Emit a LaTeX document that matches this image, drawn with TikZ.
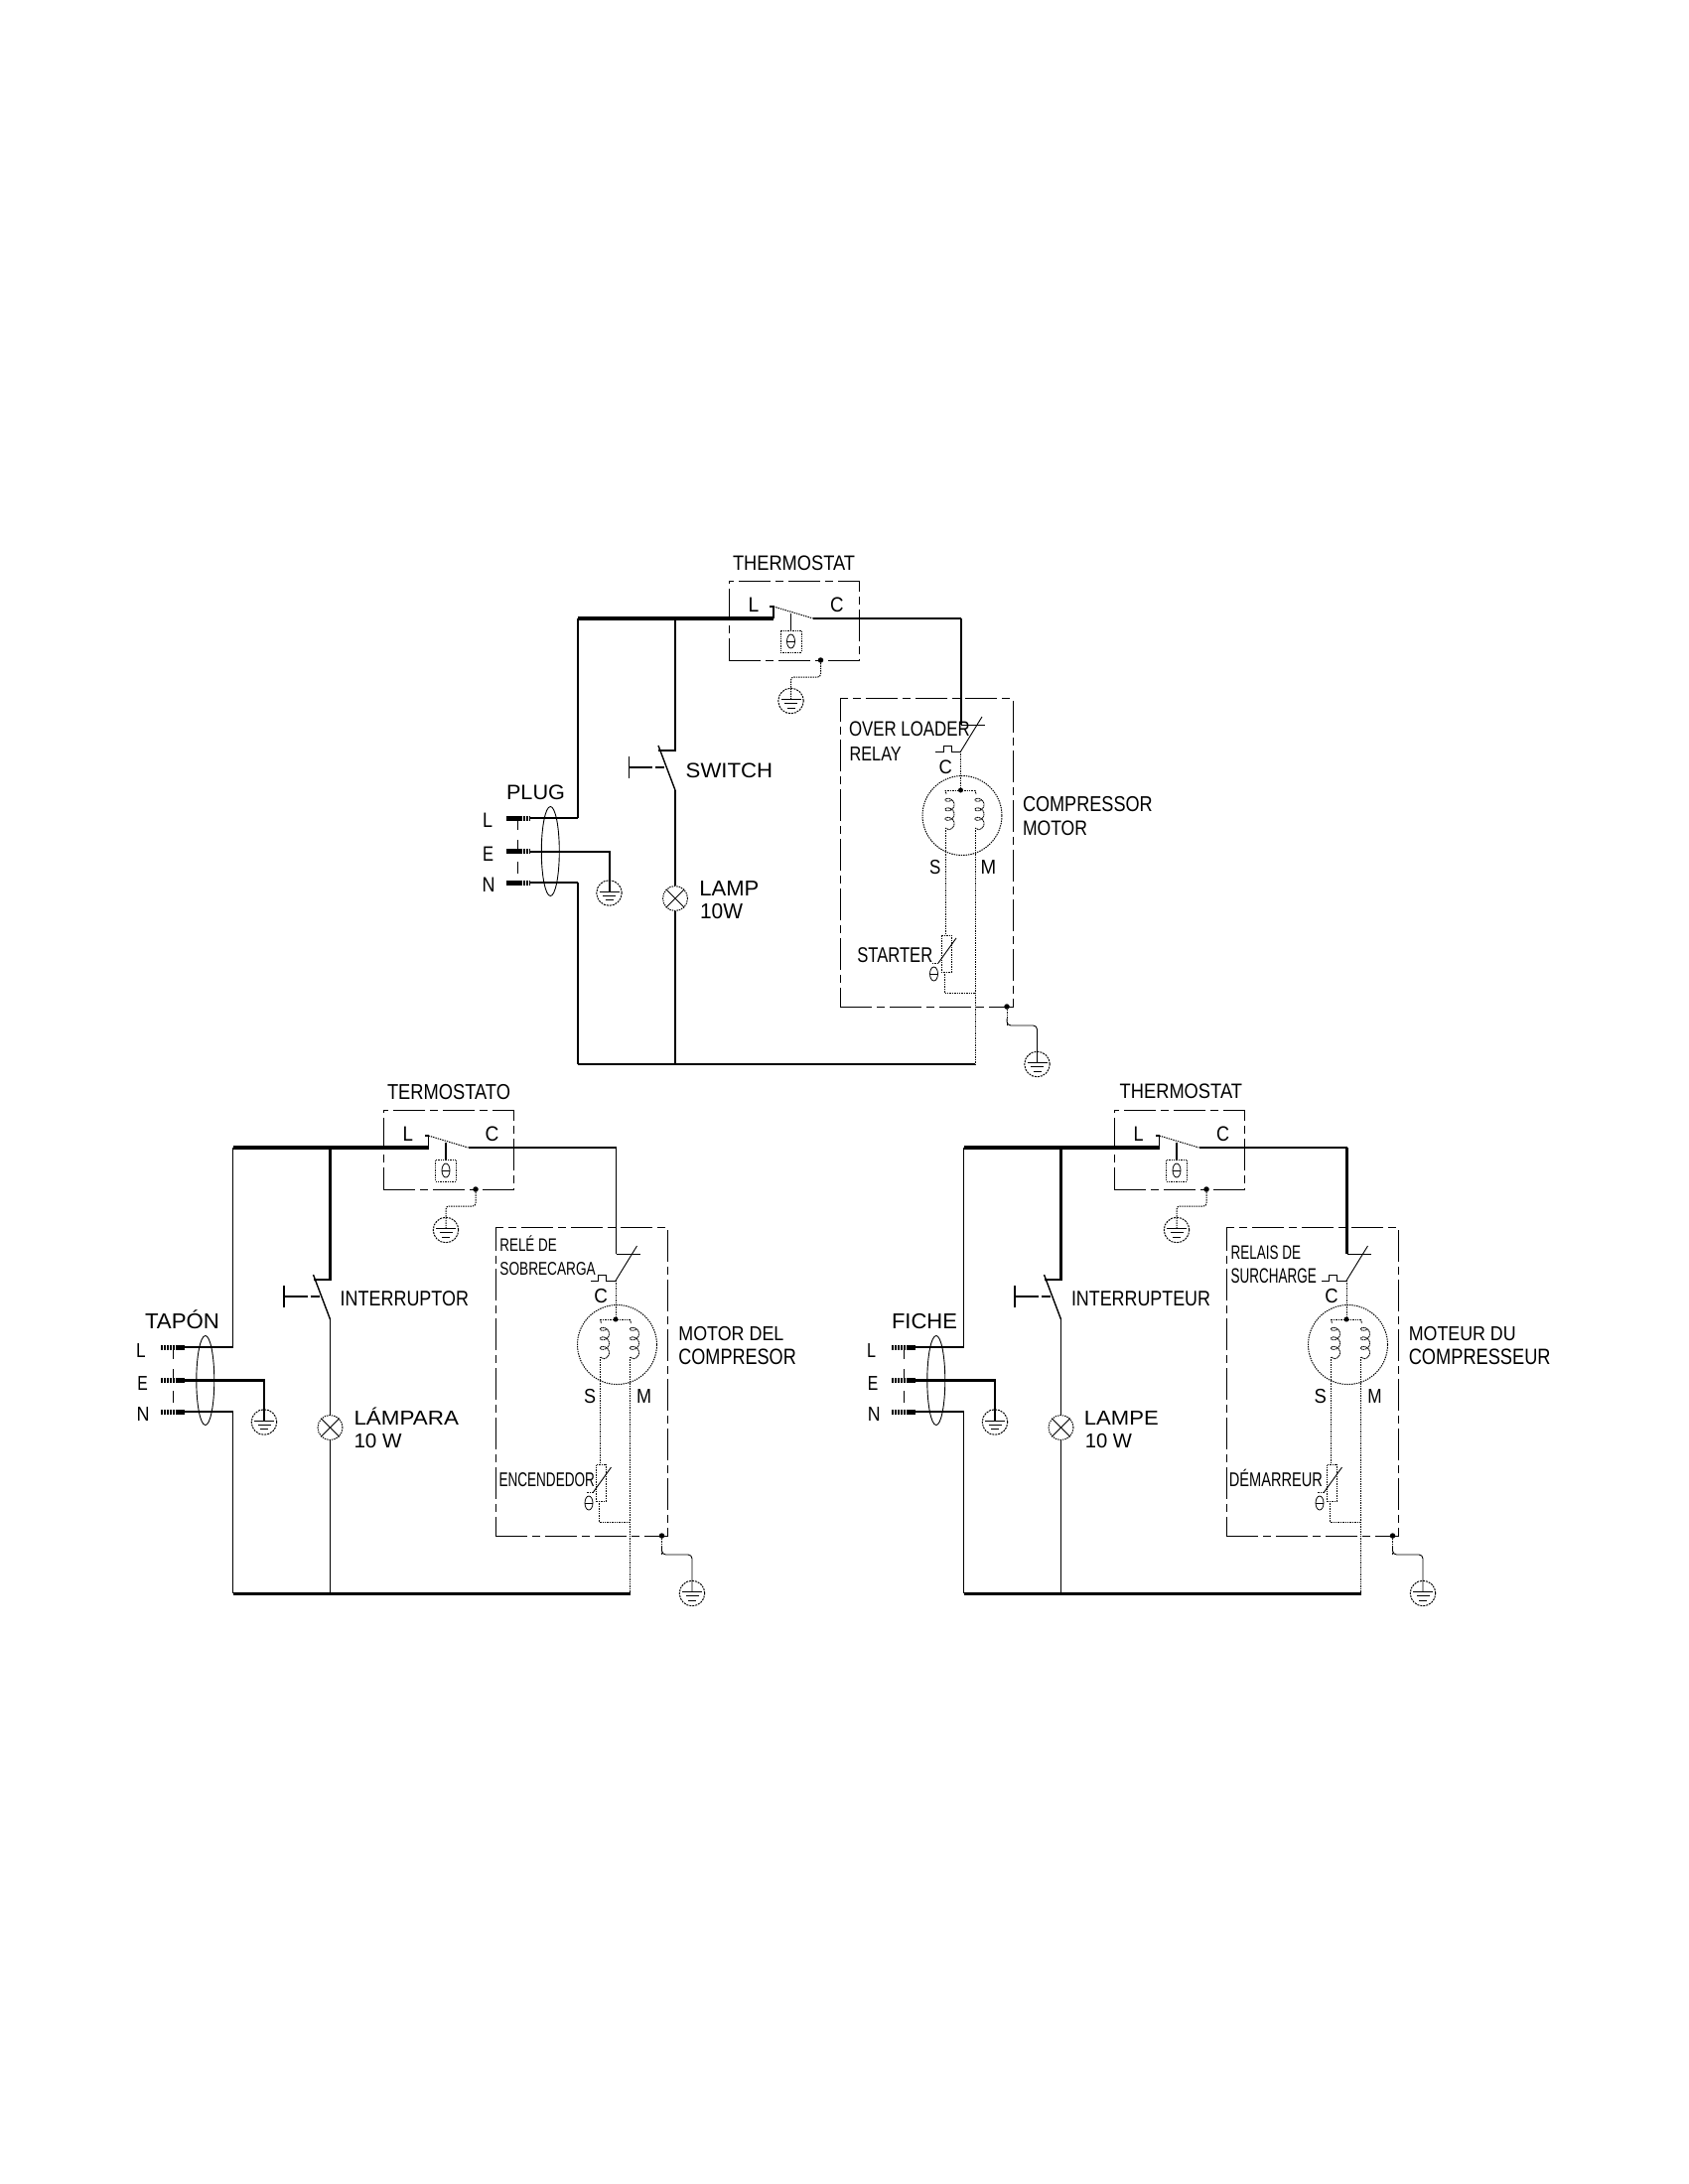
\documentclass[tikz,border=0pt]{standalone}
\usepackage{graphicx}
\usepackage{fontspec}
\setmainfont{Liberation Sans}
\tikzset{
  thinw/.style={line width=1pt,dash pattern=on 1.4pt off 1pt},
  solidthin/.style={line width=0.9pt},
  dbox/.style={draw,line width=0.9pt,dash pattern=on 32pt off 5pt on 8pt off 5pt,rectangle,inner sep=0pt,anchor=north west},
  ring/.style={draw,circle,inner sep=0pt,line width=1pt,dash pattern=on 1.4pt off 1pt},
  dotn/.style={circle,fill=black,inner sep=0pt,minimum size=5.5pt},
  pin/.style={line width=5pt,dash pattern=on 2.4pt off 0.5pt},
  lbn/.style={anchor=base west,inner sep=0pt,outer sep=0pt}
}
% \lb{name}{x}{ybase}{width}{capheight}{text}
\newcommand\lb[6]{\node[lbn] (#1) at (#2,#3) {\resizebox{#4pt}{\height}{\fontsize{\fpeval{#5/0.716}}{\fpeval{#5/0.6}}\selectfont #6}};}
% \gnd{name}{x}{y}
\newcommand\gnd[3]{%
  \node[ring,dash pattern=on 2pt off 1pt,minimum size=25.5pt] (#1) at (#2,#3) {};
  \coordinate (#1-s) at (#2,#3-2);
  \draw[solidthin] (#2-10,#3-1.5) -- (#2+10,#3-1.5);
  \draw[solidthin] (#2-6.5,#3+2.7) -- (#2+6.5,#3+2.7);
  \draw[solidthin] (#2-4,#3+7) -- (#2+4,#3+7);
}
% \coilat{x}: coil whose wire runs at x, from y=796 to 834
\newcommand\coilat[1]{%
  \draw[line width=0.9pt,dash pattern=on 1.2pt off 0.6pt] (#1,796) -- (#1+1,800)
    plot[domain=60:1180,samples=110] ({#1+4.5+4.5*cos(\x)},{801+0.0265*\x+3.5*sin(\x)}) -- (#1,834);
}
% \circuit{dx}{dy}{prefix}{top}{C wire}{relay wire}{left wires}{bottom}{earth}
\newcommand\circuit[9]{%
\begin{scope}[shift={(#1,#2)},name prefix=#3-]
  \coordinate (tl) at (582,623);
  \coordinate (j) at (680,623);
  \coordinate (lc) at (779,623);
  \coordinate (lu) at (779,611);
  \coordinate (ls) at (775,611);
  \coordinate (cc) at (819,623);
  \coordinate (r) at (968,623);
  \coordinate (rd) at (968,730);
  \coordinate (re) at (992,730);
  \coordinate (bl) at (582,1072);
  \coordinate (bj) at (680,1072);
  \coordinate (br) at (982,1072);
  % boxes
  \node[dbox,minimum width=131pt,minimum height=80pt] (tbox) at (733.5,585) {};
  \node[dbox,minimum width=173.5pt,minimum height=311pt] (mbox) at (846,703) {};
  % top wires
  \draw[line width=#4pt] (tl) -- (lc);
  \draw[line width=1.6pt] (lc) -- (lu) -- (ls);
  \draw[thinw] (lu) -- (cc);
  \draw[line width=#5pt] (cc) -- (r);
  \draw[line width=#6pt] (r) -- (rd);
  \draw[solidthin] (rd) -- (re);
  % thermostat sensor
  \coordinate (ts) at (796.5,617.5);
  \node[draw,rectangle,dash pattern=on 1.4pt off 1pt,line width=1pt,inner sep=0pt,minimum width=21pt,minimum height=22pt] (tbulb) at (796.5,646) {};
  \draw[line width=1.4pt] (ts) -- (tbulb);
  \draw[line width=0.8pt] (796.5,646) ellipse (4 and 7);
  \draw[line width=0.8pt] (792.5,646) -- (800.5,646);
  % thermostat earth
  \node[dotn] (td) at (826.5,665) {};
  \gnd{g1}{796.5}{706}
  \draw[thinw,rounded corners=3pt] (td) -- (826.5,682) -- (796.5,682) -- (g1-s);
  % plug
  \coordinate (pl) at (533.5,824);
  \coordinate (pe) at (533.5,857.5);
  \coordinate (pn) at (533.5,889);
  \coordinate (pl0) at (509.5,824);
  \coordinate (pe0) at (509.5,857.5);
  \coordinate (pn0) at (509.5,889);
  \draw[pin] (pl0) -- (pl);
  \draw[pin] (pe0) -- (pe);
  \draw[pin] (pn0) -- (pn);
  \draw[solidthin,dash pattern=on 12pt off 10pt] (521.5,824) -- (521.5,889);
  \draw[solidthin] (554.3,857.5) ellipse (9 and 45);
  \coordinate (lk) at (582,824);
  \coordinate (nk) at (582,889);
  \draw[line width=1.1pt] (pl) -- (lk);
  \draw[line width=#7pt] (lk) -- (tl);
  \draw[line width=1.1pt] (pn) -- (nk);
  \draw[line width=#7pt] (nk) -- (bl);
  \gnd{g2}{613.5}{899.5}
  \coordinate (ek) at (613.5,857.5);
  \draw[line width=#9pt] (pe) -- (ek) -- (g2-s);
  % switch and lamp
  \coordinate (sa) at (680,755.7);
  \coordinate (sb) at (663,755.7);
  \coordinate (sc) at (680,796);
  \draw[line width=2.2pt] (j) -- (sa) -- (sb);
  \draw[line width=1.4pt] (663,751) -- (sc);
  \draw[line width=1.6pt] (633.6,762) -- (633.6,784);
  \draw[line width=1.4pt] (633.6,773) -- (657,773);
  \draw[line width=1.4pt] (660,773) -- (669,773);
  \node[ring,minimum size=25pt] (lamp) at (680,905) {};
  \draw[solidthin] (lamp.45) -- (lamp.225);
  \draw[solidthin] (lamp.135) -- (lamp.315);
  \draw[line width=1.7pt] (sc) -- (lamp);
  \draw[line width=1.8pt] (lamp) -- (bj);
  \draw[line width=#8pt] (bl) -- (br);
  % overload relay
  \coordinate (ov) at (967.5,757);
  \draw[solidthin] (989,722) -- (ov);
  \draw[solidthin] (ov) -- (958,757) -- (958,751) -- (950,751) -- (950,757) -- (942,757);
  \node[dotn,minimum size=5pt] (md) at (967.5,796) {};
  \draw[thinw] (ov) -- (md);
  % motor
  \node[ring,minimum size=80pt] (mot) at (969,821.5) {};
  \draw[thinw] (952,796) -- (982,796);
  \coilat{952}
  \coilat{982}
  \node[draw,rectangle,dash pattern=on 1.4pt off 1pt,line width=1pt,inner sep=0pt,minimum width=10pt,minimum height=37pt] (stb) at (953,960.5) {};
  \draw[thinw] (952,834) -- (952,942);
  \draw[solidthin] (963,945) -- (945,970);
  \draw[thinw] (945,970) -- (938,970);
  \draw[line width=0.8pt] (940.5,981) ellipse (4 and 7);
  \draw[line width=0.8pt] (936.5,981) -- (944.5,981);
  \draw[thinw] (951,979) -- (951,1000) -- (982,1000);
  \draw[thinw] (982,834) -- (br);
  % motor earth
  \node[dotn] (bd) at (1014,1014) {};
  \gnd{g3}{1044.5}{1072}
  \draw[thinw,rounded corners=4pt] (bd) -- (1014,1033);
  \draw[solidthin,rounded corners=4pt] (1014,1026) -- (1014,1033) -- (1044.5,1033) -- (g3-s);
\end{scope}}
\begin{document}
\begin{tikzpicture}[x=1pt,y=-1pt]
\useasboundingbox (0,0) rectangle (1700,2200);
\fill[white] (0,0) rectangle (1700,2200);
\circuit{0}{0}{a}{3.6}{2.4}{2.6}{1.2}{2.6}{2.0}
\circuit{-347.5}{533}{b}{4.0}{2.0}{1.2}{1.2}{3.0}{2.2}
\circuit{388.5}{533}{c}{4.0}{2.4}{2.4}{1.2}{3.0}{2.4}
% diagram 1 labels
\lb{a1}{738}{574.5}{123}{15}{THERMOSTAT}
\lb{a2}{753.5}{616}{10.7}{15}{L}
\lb{a3}{836}{616}{13.5}{15}{C}
\lb{a4}{510}{805}{59}{15}{PLUG}
\lb{a5}{486}{833.5}{10}{15}{L}
\lb{a6}{486}{867}{11}{15}{E}
\lb{a7}{485.5}{898}{13}{15}{N}
\lb{a8}{690.7}{783}{87.5}{15}{SWITCH}
\lb{a9}{704.3}{902}{60}{15.5}{LAMP}
\lb{a10}{705}{925.7}{43}{15.5}{10W}
\lb{a11}{855}{741.7}{121.7}{15}{OVER LOADER}
\lb{a12}{855.7}{766}{52}{14.5}{RELAY}
\lb{a13}{945.7}{779}{13.3}{14}{C}
\lb{a14}{936}{880}{11.3}{14.5}{S}
\lb{a15}{987.7}{880}{15.6}{14.5}{M}
\lb{a16}{1030}{817.3}{130.7}{15.5}{COMPRESSOR}
\lb{a17}{1030}{841.7}{65}{15}{MOTOR}
\lb{a18}{863.3}{969.3}{76}{15.3}{STARTER}
% diagram 2 labels
\lb{b1}{390}{1107}{124}{15.5}{TERMOSTATO}
\lb{b2}{405.6}{1149}{10.4}{15}{L}
\lb{b3}{488.7}{1149}{13.8}{15}{C}
\lb{b4}{146}{1338.6}{75}{15.5}{TAPÓN}
\lb{b5}{137}{1367}{9.6}{14.5}{L}
\lb{b6}{138.4}{1400}{10.5}{14.5}{E}
\lb{b7}{137.5}{1431}{13}{14.5}{N}
\lb{b8}{342.7}{1315}{129.3}{15.3}{INTERRUPTOR}
\lb{b9}{356.5}{1435}{105.5}{14.5}{LÁMPARA}
\lb{b10}{356.5}{1458}{48.2}{14.5}{10 W}
\lb{b11}{503.4}{1260}{57.4}{13}{RELÉ DE}
\lb{b12}{503.4}{1284}{96.4}{13.3}{SOBRECARGA}
\lb{b13}{598.4}{1312.5}{13.6}{14.5}{C}
\lb{b14}{588}{1413.6}{12}{14.5}{S}
\lb{b15}{641}{1413.6}{15}{14.5}{M}
\lb{b16}{683.4}{1350}{106}{14.5}{MOTOR DEL}
\lb{b17}{683.4}{1374}{118.4}{16}{COMPRESOR}
\lb{b18}{502.5}{1497.5}{96.5}{14.3}{ENCENDEDOR}
% diagram 3 labels
\lb{c1}{1127.7}{1106.4}{123.3}{15}{THERMOSTAT}
\lb{c2}{1141.5}{1149}{10}{15}{L}
\lb{c3}{1225}{1149}{13}{15}{C}
\lb{c4}{898}{1338.6}{66}{15.5}{FICHE}
\lb{c5}{873}{1367}{9}{14.5}{L}
\lb{c6}{873.8}{1400}{10.5}{14.5}{E}
\lb{c7}{873.8}{1431}{12.8}{14.5}{N}
\lb{c8}{1079}{1315}{140}{15.3}{INTERRUPTEUR}
\lb{c9}{1091.9}{1435}{74.8}{14.5}{LAMPE}
\lb{c10}{1092.8}{1458}{47.2}{14.5}{10 W}
\lb{c11}{1239.7}{1268}{70.3}{14}{RELAIS DE}
\lb{c12}{1239.7}{1292}{86.3}{15}{SURCHARGE}
\lb{c13}{1334.3}{1312.5}{13.3}{14.5}{C}
\lb{c14}{1323.7}{1413.6}{12.3}{14.5}{S}
\lb{c15}{1377.4}{1413.6}{14.3}{14.5}{M}
\lb{c16}{1418.8}{1350}{107.9}{14.5}{MOTEUR DU}
\lb{c17}{1418.8}{1374}{142.8}{16}{COMPRESSEUR}
\lb{c18}{1237.9}{1497.5}{94.1}{14.3}{DÉMARREUR}
\end{tikzpicture}
\end{document}
